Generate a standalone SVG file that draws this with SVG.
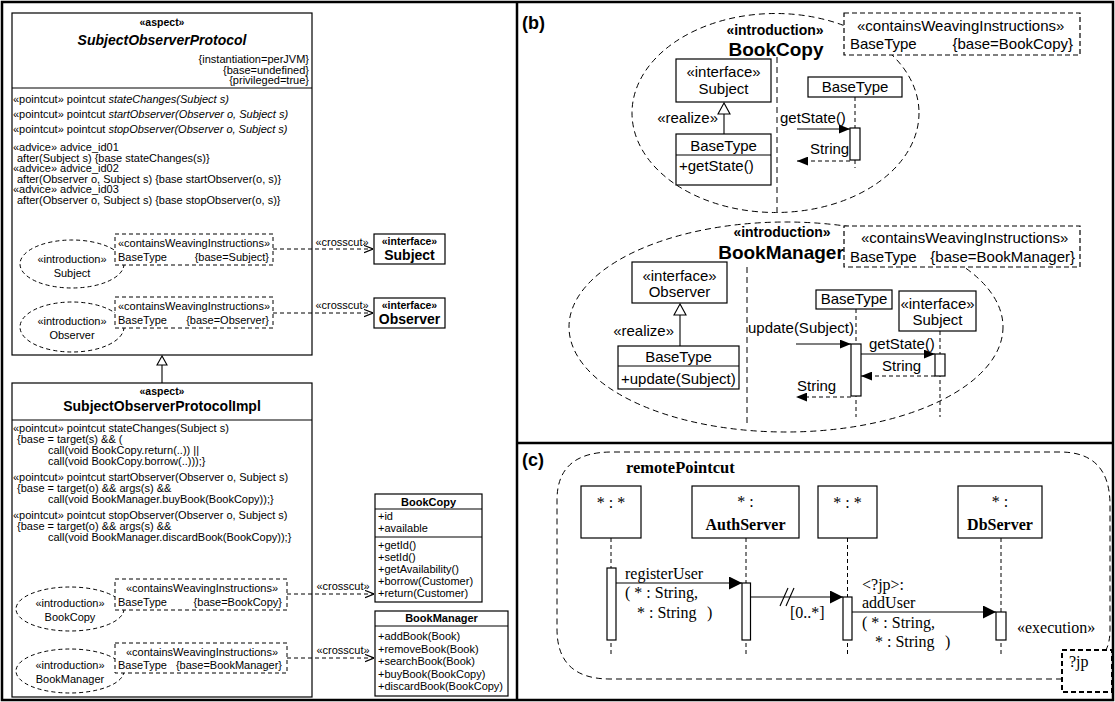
<svg xmlns="http://www.w3.org/2000/svg" width="1115" height="702" viewBox="0 0 1115 702">
<style>
text{font-family:"Liberation Sans",Arial,sans-serif;fill:#000;font-size:11px}
.b{font-weight:bold}
.i{font-style:italic}
.m{text-anchor:middle}
.e{text-anchor:end}
.f15{font-size:15px}
.ser{font-family:"Liberation Serif","Times New Roman",serif;font-size:16px}
.bx{fill:#fff;stroke:#000;stroke-width:1.2}
.ln{fill:none;stroke:#000;stroke-width:1.1}
.dbx{fill:#fff;stroke:#000;stroke-width:1;stroke-dasharray:4 3}
.dl{fill:none;stroke:#000;stroke-width:1;stroke-dasharray:4 3}
.de{fill:none;stroke:#000;stroke-width:1;stroke-dasharray:6 4}
.dbx2{fill:#fff;stroke:#000;stroke-width:1.2;stroke-dasharray:5 3}
.fr{fill:none;stroke:#000;stroke-width:2.5}
.lab{font-weight:bold;font-size:18px}
</style>
<defs>
<marker id="open" viewBox="0 0 10 10" refX="10" refY="5" markerWidth="9" markerHeight="9" orient="auto" markerUnits="userSpaceOnUse"><path d="M0,1 L10,5 L0,9" fill="none" stroke="#000" stroke-width="1.3"/></marker>
<marker id="fill" viewBox="0 0 10 8" refX="10" refY="4" markerWidth="11" markerHeight="9" orient="auto" markerUnits="userSpaceOnUse"><path d="M0,0 L10,4 L0,8Z" fill="#000"/></marker>
<marker id="big" viewBox="0 0 12 12" refX="12" refY="6" markerWidth="13" markerHeight="13" orient="auto" markerUnits="userSpaceOnUse"><path d="M0,0 L12,6 L0,12Z" fill="#000"/></marker>
</defs>
<rect width="1115" height="702" fill="#fff"/>

<!-- frames -->
<g id="frames">
<rect x="2" y="2" width="1111" height="698" class="fr"/>
<line x1="517" y1="2" x2="517" y2="700" class="fr"/>
<line x1="517" y1="443" x2="1113" y2="443" class="fr"/>
<text x="522" y="29" class="lab">(b)</text>
<text x="522" y="466" class="lab">(c)</text>
</g>

<!-- ===== Panel (a) ===== -->
<g id="SubjectObserverProtocol">
<rect x="12" y="13" width="300" height="342" class="bx"/>
<line x1="12" y1="88" x2="312" y2="88" class="ln"/>
<text x="162" y="26" class="b m" style="font-size:10.5px">«aspect»</text>
<text x="162" y="45" class="b i m" style="font-size:14px">SubjectObserverProtocol</text>
<text x="309" y="63" class="e">{instantiation=perJVM}</text>
<text x="309" y="73.5" class="e">{base=undefined}</text>
<text x="309" y="84" class="e">{privileged=true}</text>
<text x="13" y="103">«pointcut» pointcut <tspan class="i">stateChanges(Subject s)</tspan></text>
<text x="13" y="118">«pointcut» pointcut <tspan class="i">startObserver(Observer o, Subject s)</tspan></text>
<text x="13" y="132.5">«pointcut» pointcut <tspan class="i">stopObserver(Observer o, Subject s)</tspan></text>
<text x="13" y="151">«advice» advice_id01</text>
<text x="17" y="161.5">after(Subject s) {base stateChanges(s)}</text>
<text x="13" y="172">«advice» advice_id02</text>
<text x="17" y="182.5">after(Observer o, Subject s) {base startObserver(o, s)}</text>
<text x="13" y="193">«advice» advice_id03</text>
<text x="17" y="203.5">after(Observer o, Subject s) {base stopObserver(o, s)}</text>
</g>

<g id="introSubject">
<ellipse cx="72" cy="264" rx="52" ry="24" class="dl"/>
<text x="72" y="263" class="m">«introduction»</text>
<text x="72" y="277" class="m">Subject</text>
<rect x="115" y="234" width="158" height="31" class="dbx"/>
<text x="118" y="247">«containsWeavingInstructions»</text>
<text x="118" y="261">BaseType</text>
<text x="269" y="261" class="e">{base=Subject}</text>
</g>

<g id="introObserver">
<ellipse cx="72" cy="327" rx="52" ry="25" class="dl"/>
<text x="72" y="325" class="m">«introduction»</text>
<text x="72" y="339" class="m">Observer</text>
<rect x="115" y="297" width="158" height="31" class="dbx"/>
<text x="118" y="310">«containsWeavingInstructions»</text>
<text x="118" y="324">BaseType</text>
<text x="269" y="324" class="e">{base=Observer}</text>
</g>

<g id="ifaceSubject">
<rect x="374" y="234" width="71" height="30" class="bx"/>
<text x="409.5" y="244.5" class="b m" style="font-size:10.5px">«interface»</text>
<text x="409.5" y="260" class="b m" style="font-size:14px">Subject</text>
</g>

<g id="ifaceObserver">
<rect x="374" y="298" width="71" height="30" class="bx"/>
<text x="409.5" y="308.5" class="b m" style="font-size:10.5px">«interface»</text>
<text x="409.5" y="324" class="b m" style="font-size:14px">Observer</text>
</g>

<g id="SubjectObserverProtocolImpl">
<rect x="12" y="383" width="300" height="314" class="bx"/>
<line x1="12" y1="420" x2="312" y2="420" class="ln"/>
<text x="162" y="395" class="b m" style="font-size:10.5px">«aspect»</text>
<text x="162" y="411" class="b m" style="font-size:14px">SubjectObserverProtocolImpl</text>
<text x="13" y="432">«pointcut» pointcut stateChanges(Subject s)</text>
<text x="17" y="443">{base = target(s) &amp;&amp; (</text>
<text x="48" y="454">call(void BookCopy.return(..)) ||</text>
<text x="48" y="465">call(void BookCopy.borrow(..)));}</text>
<text x="13" y="481">«pointcut» pointcut startObserver(Observer o, Subject s)</text>
<text x="17" y="492">{base = target(o) &amp;&amp; args(s) &amp;&amp;</text>
<text x="48" y="503">call(void BookManager.buyBook(BookCopy));}</text>
<text x="13" y="519">«pointcut» pointcut stopObserver(Observer o, Subject s)</text>
<text x="17" y="530">{base = target(o) &amp;&amp; args(s) &amp;&amp;</text>
<text x="48" y="541">call(void BookManager.discardBook(BookCopy));}</text>
</g>

<g id="introBookCopy">
<ellipse cx="70" cy="609" rx="54" ry="22" class="dl"/>
<text x="70" y="607" class="m">«introduction»</text>
<text x="70" y="621" class="m">BookCopy</text>
<rect x="115" y="579" width="172" height="31" class="dbx"/>
<text x="126" y="592">«containsWeavingInstructions»</text>
<text x="118" y="606">BaseType</text>
<text x="282" y="606" class="e">{base=BookCopy}</text>
</g>

<g id="introBookManager">
<ellipse cx="70" cy="671" rx="54" ry="22" class="dl"/>
<text x="70" y="669" class="m">«introduction»</text>
<text x="70" y="683" class="m">BookManager</text>
<rect x="115" y="643" width="172" height="30" class="dbx"/>
<text x="126" y="656">«containsWeavingInstructions»</text>
<text x="118" y="669">BaseType</text>
<text x="282" y="669" class="e">{base=BookManager}</text>
</g>

<g id="BookCopy">
<rect x="375" y="494" width="107" height="108" class="bx"/>
<line x1="375" y1="509" x2="482" y2="509" class="ln"/>
<line x1="375" y1="537" x2="482" y2="537" class="ln"/>
<text x="428.5" y="506" class="b m">BookCopy</text>
<text x="378" y="520">+id</text>
<text x="378" y="532">+available</text>
<text x="378" y="549">+getId()</text>
<text x="378" y="561">+setId()</text>
<text x="378" y="573">+getAvailability()</text>
<text x="378" y="585">+borrow(Customer)</text>
<text x="378" y="597">+return(Customer)</text>
</g>

<g id="BookManager">
<rect x="375" y="611" width="133" height="85" class="bx"/>
<line x1="375" y1="626" x2="508" y2="626" class="ln"/>
<text x="441.5" y="622" class="b m">BookManager</text>
<text x="378" y="640">+addBook(Book)</text>
<text x="378" y="652.5">+removeBook(Book)</text>
<text x="378" y="665">+searchBook(Book)</text>
<text x="378" y="677.5">+buyBook(BookCopy)</text>
<text x="378" y="690">+discardBook(BookCopy)</text>
</g>

<!-- ===== Panel (b) ===== -->
<g id="introBookCopyB">
<ellipse cx="775.5" cy="113" rx="143.5" ry="99.5" class="de"/>
<line x1="777" y1="57" x2="777" y2="212" class="de"/>
<text x="775" y="35" class="b m" style="font-size:14px">«introduction»</text>
<text x="776" y="56" class="b m" style="font-size:19px">BookCopy</text>
<rect x="844" y="13" width="236" height="42" class="dbx2"/>
<text x="857" y="31" class="f15">«containsWeavingInstructions»</text>
<text x="850" y="49" class="f15">BaseType</text>
<text x="1073" y="49" class="f15 e">{base=BookCopy}</text>
</g>
<g id="bSubjectIface">
<rect x="676" y="59" width="95" height="43" class="bx"/>
<text x="723.5" y="77" class="f15 m">«interface»</text>
<text x="723.5" y="94" class="f15 m">Subject</text>
</g>
<g id="bBaseTypeClass1">
<rect x="676" y="134" width="95" height="51" class="bx"/>
<line x1="676" y1="155" x2="771" y2="155" class="ln"/>
<text x="723.5" y="151" class="f15 m">BaseType</text>
<text x="679" y="171" class="f15">+getState()</text>
</g>
<g id="bBaseTypeLifeline1">
<rect x="808" y="77" width="94" height="20" class="bx"/>
<text x="855" y="92" class="f15 m">BaseType</text>
<line x1="855" y1="97" x2="855" y2="168" class="dl"/>
<rect x="850" y="128" width="10" height="32" class="bx"/>
</g>

<g id="introBookManagerB">
<ellipse cx="786" cy="327" rx="217" ry="105" class="de"/>
<line x1="747" y1="267" x2="747" y2="423" class="de"/>
<text x="782" y="237" class="b m" style="font-size:14px">«introduction»</text>
<text x="781" y="259" class="b m" style="font-size:19px">BookManager</text>
<rect x="844" y="226" width="236" height="41" class="dbx2"/>
<text x="861" y="243" class="f15">«containsWeavingInstructions»</text>
<text x="850" y="262" class="f15">BaseType</text>
<text x="1075" y="262" class="f15 e">{base=BookManager}</text>
</g>
<g id="bObserverIface">
<rect x="632" y="262" width="95" height="41" class="bx"/>
<text x="679.5" y="281" class="f15 m">«interface»</text>
<text x="679.5" y="297" class="f15 m">Observer</text>
</g>
<g id="bBaseTypeClass2">
<rect x="618" y="346" width="121" height="43" class="bx"/>
<line x1="618" y1="366" x2="739" y2="366" class="ln"/>
<text x="678.5" y="362" class="f15 m">BaseType</text>
<text x="621" y="384" class="f15">+update(Subject)</text>
</g>
<g id="bBaseTypeLifeline2">
<rect x="816" y="290" width="76" height="19" class="bx"/>
<text x="854" y="304" class="f15 m">BaseType</text>
<line x1="856" y1="309" x2="856" y2="417" class="dl"/>
<rect x="851" y="344" width="10" height="52" class="bx"/>
</g>
<g id="bSubjectLifeline">
<rect x="899" y="291" width="77" height="40" class="bx"/>
<text x="937.5" y="309" class="f15 m">«interface»</text>
<text x="937.5" y="325" class="f15 m">Subject</text>
<line x1="940" y1="331" x2="940" y2="417" class="dl"/>
<rect x="935" y="354" width="10" height="22" class="bx"/>
</g>

<!-- ===== Panel (c) ===== -->
<g id="remotePointcut">
<path d="M1062,679 L610,679 Q557,679 557,629 L557,500 Q557,452 612,452 L1060,452 Q1110,452 1110,505 L1110,630 Q1110,642 1106,650" class="de"/>
<text x="626" y="473" class="ser b" style="font-size:16.5px">remotePointcut</text>
<rect x="1062" y="650" width="50" height="42" fill="none" stroke="#000" stroke-width="2" stroke-dasharray="5 3"/>
<text x="1069" y="667" class="ser">?jp</text>
</g>
<g id="ll1">
<rect x="581" y="486" width="60" height="52" class="bx"/>
<text x="611" y="508" class="ser m">* : *</text>
<line x1="611" y1="538" x2="611" y2="655" class="dl"/>
<rect x="607" y="568" width="9" height="72" class="bx"/>
</g>
<g id="ll2">
<rect x="692" y="486" width="107" height="52" class="bx"/>
<text x="745.5" y="507" class="ser m">* :</text>
<text x="745.5" y="530" class="ser m b">AuthServer</text>
<line x1="746" y1="538" x2="746" y2="655" class="dl"/>
<rect x="742" y="583" width="8.5" height="57" class="bx"/>
</g>
<g id="ll3">
<rect x="818" y="486" width="59" height="52" class="bx"/>
<text x="847.5" y="508" class="ser m">* : *</text>
<line x1="847.5" y1="538" x2="847.5" y2="655" class="dl"/>
<rect x="843" y="597" width="9" height="43" class="bx"/>
</g>
<g id="ll4">
<rect x="958" y="486" width="84" height="52" class="bx"/>
<text x="1000" y="507" class="ser m">* :</text>
<text x="1000" y="530" class="ser m b">DbServer</text>
<line x1="1001" y1="538" x2="1001" y2="655" class="dl"/>
<rect x="996" y="612" width="10" height="28" class="bx"/>
<text x="1017" y="633" class="ser">«execution»</text>
</g>

<!-- ===== connectors ===== -->
<g id="connectors">
<line x1="273" y1="249" x2="373" y2="249" class="dl" marker-end="url(#open)"/>
<text x="342" y="246" class="m">«crosscut»</text>
<line x1="273" y1="313" x2="373" y2="313" class="dl" marker-end="url(#open)"/>
<text x="342" y="309" class="m">«crosscut»</text>
<line x1="287" y1="594" x2="374" y2="594" class="dl" marker-end="url(#open)"/>
<text x="343" y="590" class="m">«crosscut»</text>
<line x1="287" y1="658" x2="374" y2="658" class="dl" marker-end="url(#open)"/>
<text x="343" y="654" class="m">«crosscut»</text>
<line x1="162" y1="365" x2="162" y2="383" class="ln"/>
<polygon points="162,356 157,365 167,365" fill="#fff" stroke="#000" stroke-width="1.1"/>

<line x1="724" y1="114" x2="724" y2="134" class="ln"/>
<polygon points="724,103 718,114 730,114" fill="#fff" stroke="#000" stroke-width="1.1"/>
<text x="718" y="123" class="f15 e">«realize»</text>
<line x1="797" y1="129" x2="850" y2="129" class="ln" marker-end="url(#fill)"/>
<text x="780" y="123" class="f15">getState()</text>
<line x1="850" y1="161" x2="797" y2="161" class="dl" marker-end="url(#fill)"/>
<text x="810" y="154" class="f15">String</text>

<line x1="680" y1="315" x2="680" y2="346" class="ln"/>
<polygon points="680,304 674,315 686,315" fill="#fff" stroke="#000" stroke-width="1.1"/>
<text x="674" y="336" class="f15 e">«realize»</text>
<line x1="796" y1="344" x2="851" y2="344" class="ln" marker-end="url(#fill)"/>
<text x="748" y="333" class="f15">update(Subject)</text>
<line x1="861" y1="354" x2="935" y2="354" class="ln" marker-end="url(#fill)"/>
<text x="869" y="349" class="f15">getState()</text>
<line x1="935" y1="376" x2="861" y2="376" class="dl" marker-end="url(#fill)"/>
<text x="882" y="371" class="f15">String</text>
<line x1="851" y1="397" x2="796" y2="397" class="dl" marker-end="url(#fill)"/>
<text x="797" y="391" class="f15">String</text>

<line x1="616" y1="583" x2="742" y2="583" class="ln" marker-end="url(#big)"/>
<text x="625" y="579" class="ser">registerUser</text>
<text x="625" y="598" class="ser">( * : String,</text>
<text x="637" y="618" class="ser">* : String<tspan x="707">)</tspan></text>
<line x1="750.5" y1="597" x2="843" y2="597" class="ln" marker-end="url(#big)"/>
<line x1="780" y1="606" x2="788" y2="588" class="ln"/>
<line x1="786" y1="606" x2="794" y2="588" class="ln"/>
<text x="790" y="618" class="ser">[0..*]</text>
<line x1="852" y1="612" x2="996" y2="612" class="ln" marker-end="url(#big)"/>
<text x="862" y="590" class="ser">&lt;?jp&gt;:</text>
<text x="862" y="608" class="ser">addUser</text>
<text x="862" y="628" class="ser">( * : String,</text>
<text x="875" y="647" class="ser">* : String<tspan x="945">)</tspan></text>
</g>
</svg>
